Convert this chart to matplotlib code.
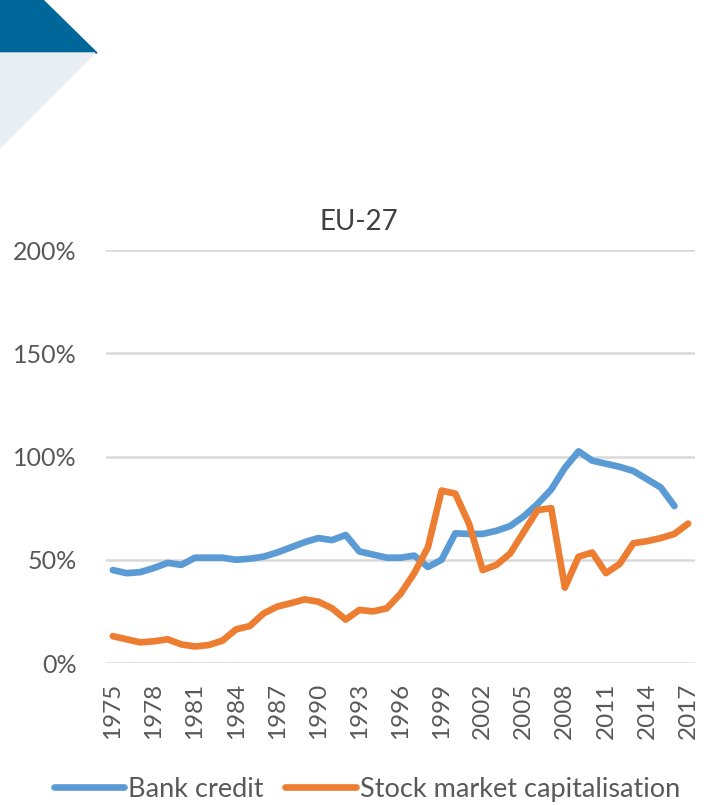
import numpy as np
from matplotlib import pyplot as plt
from matplotlib.patches import Polygon
from matplotlib.ticker import PercentFormatter

# data (percent of GDP)
years = np.arange(1975, 2018)
bank_years = np.arange(1975, 2017)
bank_credit = [45, 43.5, 44, 46, 48.5, 47.5, 51, 51, 51, 50, 50.5, 51.5, 53.5, 56,
               58.5, 60.5, 59.5, 62, 54, 52.5, 51, 51, 52, 46.5, 50, 62.8, 62.5, 62.5,
               64, 66.3, 71, 77, 84, 94.5, 102.5, 98, 96.5, 95, 93, 89, 85, 76]
stock_cap = [13, 11.5, 10, 10.5, 11.5, 9, 8, 8.7, 10.8, 16.3, 17.9, 24, 27.3, 29,
             30.8, 29.7, 26.5, 21, 25.7, 25, 26.5, 33.5, 43.5, 56, 83.5, 82, 67.5, 45,
             47.5, 53, 63.5, 74, 75, 36.5, 51.5, 53.5, 43.5, 48, 58, 59, 60.5, 62.5, 67.5]
tick_years = np.arange(1975, 2018, 3)

plt.rcParams['font.family'] = ['Lato', 'DejaVu Sans']
grey = '#595959'

fig = plt.figure(figsize=(7.06, 8.05), dpi=100)

# decorative corner shapes
fig.patches.append(Polygon([(0, 1), (43/706, 1), (97/706, 1-53/805), (0, 1-53/805)],
                           closed=True, transform=fig.transFigure, color='#00679A', zorder=0))
fig.patches.append(Polygon([(0, 1-53/805), (95/706, 1-53/805), (0, 1-148/805)],
                           closed=True, transform=fig.transFigure, color='#E9EEF2', zorder=0))

ax = fig.add_axes([106/706, 142/805, 589/706, 413/805])
ax.plot(bank_years, bank_credit, color='#5B9BD5', lw=4.8, label='Bank credit',
        solid_capstyle='round', solid_joinstyle='round', zorder=3)
ax.plot(years, stock_cap, color='#ED7D31', lw=4.8, label='Stock market capitalisation',
        solid_capstyle='round', solid_joinstyle='round', zorder=3)

ax.set_xlim(1974.5, 2017.5)
ax.set_ylim(0, 200)
ax.set_yticks([0, 50, 100, 150, 200])
ax.yaxis.set_major_formatter(PercentFormatter(decimals=0))
ax.set_xticks(tick_years)
ax.set_xticklabels([str(y) for y in tick_years], rotation=90)
ax.tick_params(length=0, colors=grey)
ax.tick_params(axis='x', labelsize=17.5, pad=14)
ax.tick_params(axis='y', labelsize=18, pad=21)
ax.grid(axis='y', color='#D9D9D9', lw=1.8, zorder=0)
for s in ax.spines.values():
    s.set_visible(False)

fig.text(359/706, 1-222/805, 'EU-27', ha='center', va='center', fontsize=20, color='#404040')

fig.legend(loc='center', bbox_to_anchor=(367/706, 16/805), ncol=2, frameon=False,
           fontsize=19.5, handlelength=2.6, columnspacing=0.8, handletextpad=0.15,
           labelcolor=grey)

fig.savefig('out.png', dpi=100)
